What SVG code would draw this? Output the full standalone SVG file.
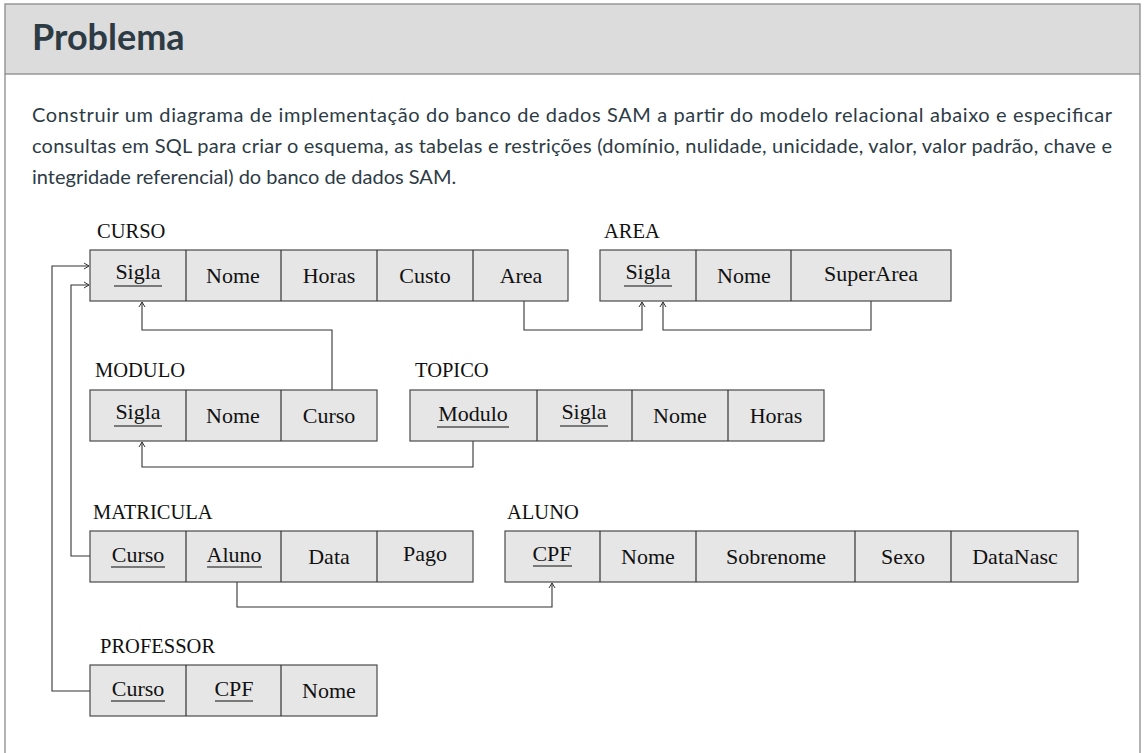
<svg xmlns="http://www.w3.org/2000/svg" width="1144" height="753" viewBox="0 0 1144 753">
<style>
.cell{fill:#e6e6e6;stroke:#4a4a4a;stroke-width:1.2}
.div{stroke:#333;stroke-width:1.2}
.t{font-family:"Liberation Serif",serif;font-size:22px;fill:#111;text-anchor:middle}
.lbl{font-family:"Liberation Serif",serif;font-size:20.5px;fill:#111}
.ul{stroke:#555;stroke-width:1.3}
.con{fill:none;stroke:#333;stroke-width:1.1}
.p{font-family:Lato,"Noto Sans",sans-serif;font-size:20px;fill:#2d3b45}
</style>
<defs>
<marker id="arr" markerUnits="userSpaceOnUse" markerWidth="8" markerHeight="8" refX="6" refY="4" orient="auto">
<path d="M1,1 L6,4 L1,7" fill="none" stroke="#333" stroke-width="1"/>
</marker>
</defs>
<rect x="0" y="0" width="1144" height="753" fill="#ffffff"/>
<g id="page">
<rect x="5" y="4" width="1135" height="70" fill="#dcdcdc" stroke="#8a8a8a" stroke-width="1.3"/>
<line x1="5" y1="74" x2="5" y2="753" stroke="#8a8a8a" stroke-width="1.3"/>
<line x1="1140" y1="74" x2="1140" y2="753" stroke="#8a8a8a" stroke-width="1.3"/>
<text x="32" y="50" font-family="Lato,'Noto Sans',sans-serif" font-size="36" font-weight="bold" fill="#2d3b45">Problema</text>
<text class="p" x="32" y="122" textLength="1080" lengthAdjust="spacing">Construir um diagrama de implementação do banco de dados SAM a partir do modelo relacional abaixo e especificar</text>
<text class="p" x="32" y="153" textLength="1080" lengthAdjust="spacing">consultas em SQL para criar o esquema, as tabelas e restrições (domínio, nulidade, unicidade, valor, valor padrão, chave e</text>
<text class="p" x="32" y="184">integridade referencial) do banco de dados SAM.</text>
</g>
<g id="connectors">
<polyline class="con" points="524,301 524,330 642,330 642,302" marker-end="url(#arr)"/>
<polyline class="con" points="871,301 871,330 663,330 663,302" marker-end="url(#arr)"/>
<polyline class="con" points="332,390 332,330 142,330 142,302" marker-end="url(#arr)"/>
<polyline class="con" points="473,441 473,467 142,467 142,442" marker-end="url(#arr)"/>
<polyline class="con" points="237,582 237,607 552,607 552,583" marker-end="url(#arr)"/>
<polyline class="con" points="90,556 71,556 71,285 89,285" marker-end="url(#arr)"/>
<polyline class="con" points="90,691 52,691 52,266 89,266" marker-end="url(#arr)"/>
</g>
<g id="curso">
<text class="lbl" x="97" y="238">CURSO</text>
<rect class="cell" x="90" y="250" width="478" height="51"/>
<line class="div" x1="186" y1="250" x2="186" y2="301"/>
<line class="div" x1="281" y1="250" x2="281" y2="301"/>
<line class="div" x1="377" y1="250" x2="377" y2="301"/>
<line class="div" x1="473" y1="250" x2="473" y2="301"/>
<text class="t" x="138" y="279">Sigla</text>
<line class="ul" x1="114" y1="286" x2="162" y2="286"/>
<text class="t" x="233" y="283">Nome</text>
<text class="t" x="329" y="283">Horas</text>
<text class="t" x="425" y="283">Custo</text>
<text class="t" x="521" y="283">Area</text>
</g>
<g id="area">
<text class="lbl" x="604" y="238">AREA</text>
<rect class="cell" x="600" y="250" width="351" height="51"/>
<line class="div" x1="696" y1="250" x2="696" y2="301"/>
<line class="div" x1="791" y1="250" x2="791" y2="301"/>
<text class="t" x="648" y="279">Sigla</text>
<line class="ul" x1="624" y1="286" x2="672" y2="286"/>
<text class="t" x="744" y="283">Nome</text>
<text class="t" x="871" y="281">SuperArea</text>
</g>
<g id="modulo">
<text class="lbl" x="95" y="377">MODULO</text>
<rect class="cell" x="90" y="390" width="287" height="51"/>
<line class="div" x1="186" y1="390" x2="186" y2="441"/>
<line class="div" x1="281" y1="390" x2="281" y2="441"/>
<text class="t" x="138" y="419">Sigla</text>
<line class="ul" x1="114" y1="426" x2="162" y2="426"/>
<text class="t" x="233" y="423">Nome</text>
<text class="t" x="329" y="423">Curso</text>
</g>
<g id="topico">
<text class="lbl" x="415" y="377">TOPICO</text>
<rect class="cell" x="410" y="390" width="414" height="51"/>
<line class="div" x1="537" y1="390" x2="537" y2="441"/>
<line class="div" x1="632" y1="390" x2="632" y2="441"/>
<line class="div" x1="728" y1="390" x2="728" y2="441"/>
<text class="t" x="473" y="421">Modulo</text>
<line class="ul" x1="437" y1="427" x2="509" y2="427"/>
<text class="t" x="584" y="419">Sigla</text>
<line class="ul" x1="560" y1="426" x2="608" y2="426"/>
<text class="t" x="680" y="423">Nome</text>
<text class="t" x="776" y="423">Horas</text>
</g>
<g id="matricula">
<text class="lbl" x="93" y="519">MATRICULA</text>
<rect class="cell" x="90" y="531" width="383" height="51"/>
<line class="div" x1="186" y1="531" x2="186" y2="582"/>
<line class="div" x1="281" y1="531" x2="281" y2="582"/>
<line class="div" x1="377" y1="531" x2="377" y2="582"/>
<text class="t" x="138" y="562">Curso</text>
<line class="ul" x1="111" y1="567" x2="165" y2="567"/>
<text class="t" x="234" y="562">Aluno</text>
<line class="ul" x1="207" y1="567" x2="262" y2="567"/>
<text class="t" x="329" y="564">Data</text>
<text class="t" x="425" y="561">Pago</text>
</g>
<g id="aluno">
<text class="lbl" x="507" y="519">ALUNO</text>
<rect class="cell" x="505" y="531" width="573" height="51"/>
<line class="div" x1="600" y1="531" x2="600" y2="582"/>
<line class="div" x1="696" y1="531" x2="696" y2="582"/>
<line class="div" x1="855" y1="531" x2="855" y2="582"/>
<line class="div" x1="951" y1="531" x2="951" y2="582"/>
<text class="t" x="552" y="561">CPF</text>
<line class="ul" x1="533" y1="566" x2="572" y2="566"/>
<text class="t" x="648" y="564">Nome</text>
<text class="t" x="776" y="564">Sobrenome</text>
<text class="t" x="903" y="564">Sexo</text>
<text class="t" x="1015" y="564">DataNasc</text>
</g>
<g id="professor">
<text class="lbl" x="100" y="653">PROFESSOR</text>
<rect class="cell" x="90" y="665" width="287" height="51"/>
<line class="div" x1="186" y1="665" x2="186" y2="716"/>
<line class="div" x1="281" y1="665" x2="281" y2="716"/>
<text class="t" x="138" y="696">Curso</text>
<line class="ul" x1="111" y1="701" x2="165" y2="701"/>
<text class="t" x="234" y="696">CPF</text>
<line class="ul" x1="215" y1="701" x2="253" y2="701"/>
<text class="t" x="329" y="698">Nome</text>
</g>
</svg>
